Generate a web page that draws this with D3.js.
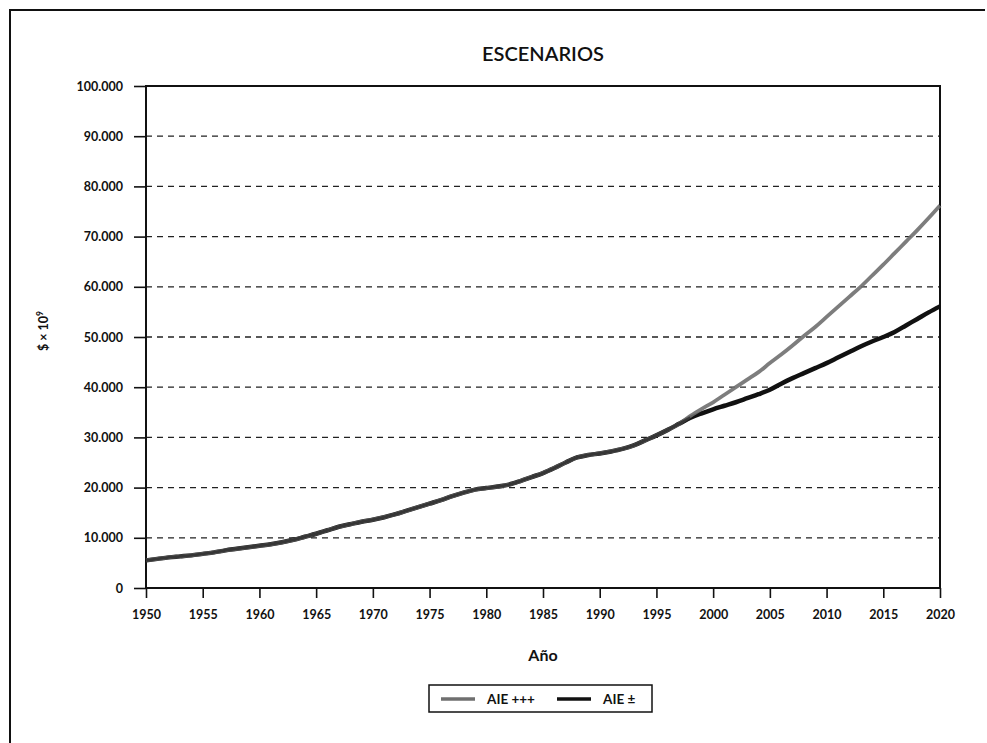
<!DOCTYPE html>
<html>
<head>
<meta charset="utf-8">
<script src="https://cdn.jsdelivr.net/npm/d3@7"></script>
<style>
  body { margin: 0; background: #fff; }
  text { font-family: Lato, 'Open Sans', sans-serif; fill: #111; }
</style>
</head>
<body>
<div id="chart"></div>
<script>
// years shared by both scenarios up to 1998
const commonYears = d3.range(1950, 1998)
const commonValues = [5500, 5800, 6100, 6300, 6500, 6800, 7100, 7500, 7800, 8100,
  8400, 8700, 9100, 9600, 10200, 10800, 11500, 12200, 12700, 13200,
  13600, 14100, 14700, 15400, 16100, 16800, 17500, 18300, 19000, 19600,
  19900, 20200, 20600, 21300, 22100, 22900, 23900, 25000, 26000, 26500,
  26800, 27200, 27700, 28400, 29400, 30400, 31500, 32700]

const splitYears = d3.range(1998, 2021)
const highValues = [34300, 35700, 37000, 38500, 40000, 41500, 43000, 44800, 46500, 48300,
  50200, 52000, 54000, 56000, 58000, 60000, 62200, 64400, 66700, 69000,
  71300, 73700, 76200]
const midValues = [33900, 34800, 35600, 36300, 37000, 37800, 38600, 39500, 40700, 41800,
  42800, 43800, 44800, 45900, 47000, 48100, 49100, 50000, 51000, 52300,
  53600, 54900, 56100]

const yTicks = [0, 10000, 20000, 30000, 40000, 50000, 60000, 70000, 80000, 90000, 100000]
const xTicks = d3.range(1950, 2021, 5)
const seriesNames = ['AIE +++', 'AIE ±']

const common = commonYears.map((y, i) => ({ year: y, value: commonValues[i] }))
const high = common.concat(splitYears.map((y, i) => ({ year: y, value: highValues[i] })))
const mid = common.concat(splitYears.map((y, i) => ({ year: y, value: midValues[i] })))

const margin = { top: 86, left: 146, right: 47, bottom: 155 }
const fullW = 987, fullH = 743
const width = fullW - margin.left - margin.right
const height = fullH - margin.top - margin.bottom

const root = d3.select('#chart').append('svg')
  .attr('width', fullW).attr('height', fullH)

// outer frame (top + left only)
root.append('path')
  .attr('d', 'M10,743 L10,10 L985,10')
  .attr('fill', 'none').attr('stroke', '#111').attr('stroke-width', 2)

root.append('text').text('ESCENARIOS')
  .attr('x', margin.left + width / 2).attr('y', 61)
  .attr('text-anchor', 'middle').attr('font-size', '20px').attr('font-weight', 600)

const svg = root.append('g')
  .attr('transform', 'translate(' + margin.left + ',' + margin.top + ')')

const xPositionScale = d3.scaleLinear().domain([1950, 2020]).range([0, width])
const yPositionScale = d3.scaleLinear().domain([0, 100000]).range([height, 0])

// dashed gridlines
svg.selectAll('.grid')
  .data(yTicks.filter(d => d > 0 && d < 100000))
  .enter().append('line')
  .attr('class', 'grid')
  .attr('x1', 0).attr('x2', width)
  .attr('y1', d => yPositionScale(d)).attr('y2', d => yPositionScale(d))
  .attr('stroke', '#222').attr('stroke-width', 1.3)
  .attr('stroke-dasharray', '6,5')

// plot frame
svg.append('rect')
  .attr('width', width).attr('height', height)
  .attr('fill', 'none').attr('stroke', '#111').attr('stroke-width', 2)

const yAxis = d3.axisLeft(yPositionScale).tickValues(yTicks)
  .tickSize(12).tickPadding(11)
  .tickFormat(d => d3.format(',')(d).replace(/,/g, '.'))
const yG = svg.append('g').attr('class', 'axis y-axis').call(yAxis)
yG.select('.domain').remove()
yG.selectAll('line').attr('stroke', '#111').attr('stroke-width', 1.6)
yG.selectAll('text').attr('font-size', '12.5px').attr('font-weight', 700)
  .attr('font-family', 'Lato, sans-serif').attr('fill', '#111')

const xAxis = d3.axisBottom(xPositionScale).tickValues(xTicks)
  .tickSize(10).tickPadding(12).tickFormat(d3.format('d'))
const xG = svg.append('g').attr('class', 'axis x-axis')
  .attr('transform', 'translate(0,' + height + ')').call(xAxis)
xG.select('.domain').remove()
xG.selectAll('line').attr('stroke', '#111').attr('stroke-width', 1.6)
xG.selectAll('text').attr('font-size', '12.5px').attr('font-weight', 700)
  .attr('font-family', 'Lato, sans-serif').attr('fill', '#111')

const line = d3.line()
  .x(d => xPositionScale(d.year))
  .y(d => yPositionScale(d.value))
  .curve(d3.curveMonotoneX)

svg.append('path').datum(mid)
  .attr('d', line).attr('fill', 'none')
  .attr('stroke', '#111').attr('stroke-width', 4.5)
svg.append('path').datum(high)
  .attr('d', line).attr('fill', 'none')
  .attr('stroke', '#6f6f6f').attr('stroke-width', 3.8)
  .attr('opacity', 0.9)
// keep the shared section dark
svg.append('path').datum(mid.filter(d => d.year <= 1998))
  .attr('d', line).attr('fill', 'none')
  .attr('stroke', '#222').attr('stroke-width', 3)
  .attr('opacity', 0.7)

// axis titles
root.append('text').text('Año')
  .attr('x', margin.left + width / 2).attr('y', 661)
  .attr('text-anchor', 'middle').attr('font-size', '16px').attr('font-weight', 700)

const yLab = root.append('text')
  .attr('transform', 'translate(48,' + (margin.top + height / 2 - 6) + ') rotate(-90)')
  .attr('text-anchor', 'middle').attr('font-size', '12.5px').attr('font-weight', 700)
yLab.append('tspan').text('$ × 10')
yLab.append('tspan').text('9').attr('font-size', '8.5px').attr('dy', '-5')

// legend
const legend = root.append('g').attr('transform', 'translate(429,685)')
legend.append('rect').attr('width', 223).attr('height', 27)
  .attr('fill', '#fff').attr('stroke', '#111').attr('stroke-width', 1.5)
const legendColors = ['#6f6f6f', '#111']
const legendX = [12, 128]
seriesNames.forEach((name, i) => {
  legend.append('line')
    .attr('x1', legendX[i]).attr('x2', legendX[i] + 34)
    .attr('y1', 14).attr('y2', 14)
    .attr('stroke', legendColors[i]).attr('stroke-width', 3.5)
  legend.append('text').text(name)
    .attr('x', legendX[i] + 46).attr('y', 19)
    .attr('font-size', '13.5px').attr('font-weight', 700)
})
</script>
</body>
</html>
